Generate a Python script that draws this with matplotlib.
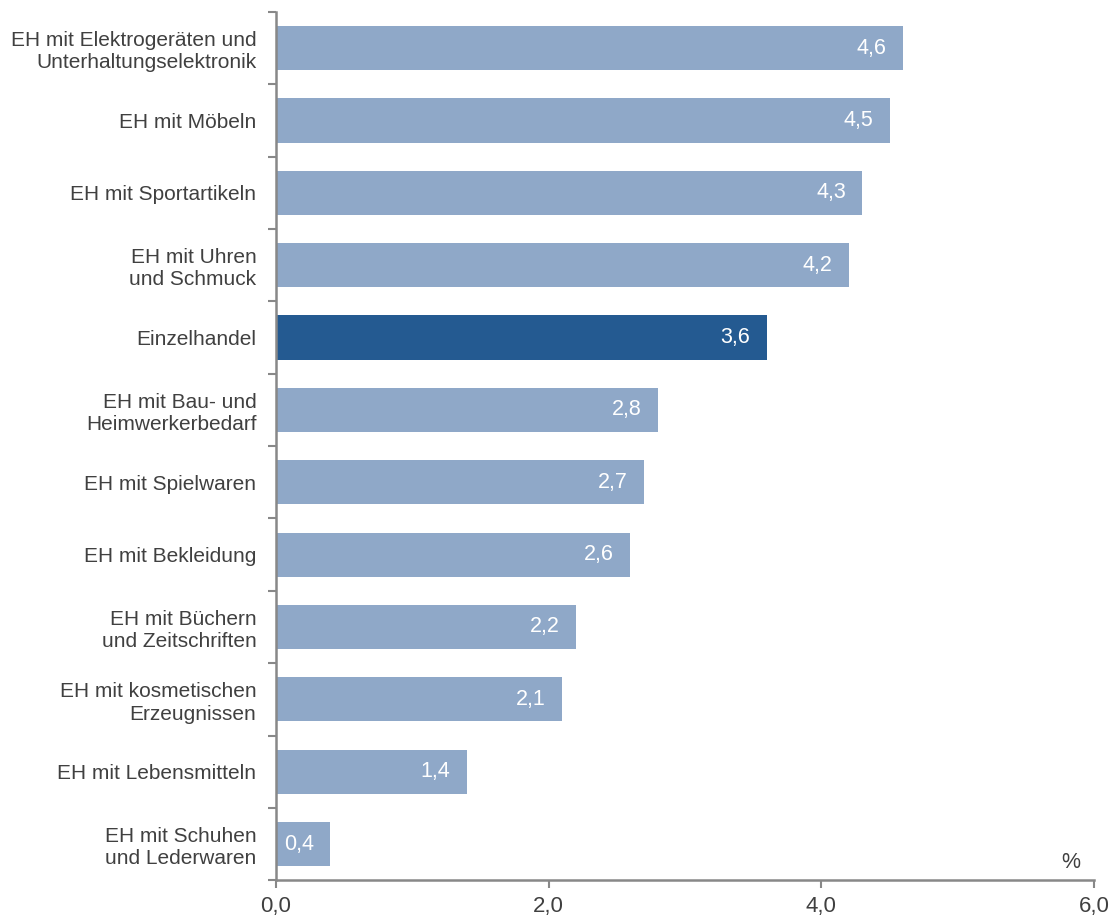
import matplotlib.pyplot as plt
import numpy as np

categories = [
    "EH mit Elektrogeräten und\nUnterhaltungselektronik",
    "EH mit Möbeln",
    "EH mit Sportartikeln",
    "EH mit Uhren\nund Schmuck",
    "Einzelhandel",
    "EH mit Bau- und\nHeimwerkerbedarf",
    "EH mit Spielwaren",
    "EH mit Bekleidung",
    "EH mit Büchern\nund Zeitschriften",
    "EH mit kosmetischen\nErzeugnissen",
    "EH mit Lebensmitteln",
    "EH mit Schuhen\nund Lederwaren",
]
values = [4.6, 4.5, 4.3, 4.2, 3.6, 2.8, 2.7, 2.6, 2.2, 2.1, 1.4, 0.4]
highlight = "Einzelhandel"
xticks = [0, 2, 4, 6]

plt.rcParams['font.family'] = ['Liberation Sans', 'DejaVu Sans']
text_col = '#404040'
spine_col = '#888888'

fig = plt.figure(figsize=(11.12, 9.15), dpi=100)
ax = fig.add_axes([0.248, 0.038, 0.736, 0.949])

y = np.arange(len(categories))
colors = ['#245A91' if c == highlight else '#8FA8C8' for c in categories]
ax.barh(y, values, height=0.61, color=colors, edgecolor='none')

for yi, v in zip(y, values):
    ax.text(v - 0.12, yi, f"{v:.1f}".replace('.', ','), ha='right', va='center',
            color='white', fontsize=15.5)

ax.set_ylim(len(categories) - 0.5, -0.5)
ax.set_xlim(0, 6)

ax.set_yticks(y)
ax.set_yticklabels(categories, fontsize=15, color=text_col, linespacing=1.22)
ax.tick_params(axis='y', which='major', length=0, pad=14)
ax.set_yticks(np.arange(-0.5, len(categories), 1), minor=True)
ax.tick_params(axis='y', which='minor', length=6, width=1.5, color=spine_col)

ax.set_xticks(xticks)
ax.set_xticklabels([f"{t:.1f}".replace('.', ',') for t in xticks], fontsize=16, color=text_col)
ax.tick_params(axis='x', length=6, width=1.5, color=spine_col, pad=5)

for s in ['top', 'right']:
    ax.spines[s].set_visible(False)
for s in ['left', 'bottom']:
    ax.spines[s].set_color(spine_col)
    ax.spines[s].set_linewidth(1.8)

ax.text(0.983, 0.008, "%", transform=ax.transAxes, ha='right', va='bottom',
        fontsize=15.5, color=text_col)

fig.savefig("out.png", dpi=100)
